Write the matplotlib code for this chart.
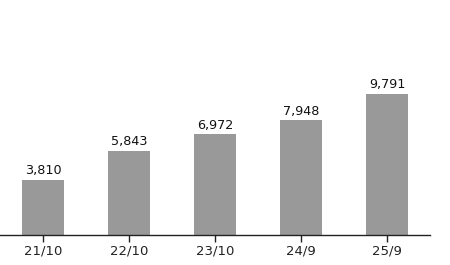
import matplotlib.pyplot as plt

dates = ['21/10', '22/10', '23/10', '24/9', '25/9']
values = [3810, 5843, 6972, 7948, 9791]

fig = plt.figure(figsize=(4.5, 2.65), dpi=100)
ax = fig.add_axes([0, 30 / 265, 430 / 450, 235 / 265])

x = range(len(dates))
ax.bar(x, values, width=0.49, color='#999999')
for i, v in zip(x, values):
    ax.annotate(f'{v:,}', (i, v), xytext=(0, 2), textcoords='offset points',
                ha='center', va='bottom', fontsize=9.2, color='#111111')

ax.set_xlim(-0.5, 4.5)
ax.set_ylim(0, 16300)
ax.set_xticks(list(x))
ax.set_xticklabels(dates, fontsize=9.5, color='#222222')
ax.tick_params(axis='x', length=5, width=1, color='#222222', pad=1.5)
ax.set_yticks([])
for s in ['top', 'right', 'left']:
    ax.spines[s].set_visible(False)
ax.spines['bottom'].set_color('#222222')
ax.spines['bottom'].set_linewidth(1)

fig.savefig('out.png', dpi=100)
